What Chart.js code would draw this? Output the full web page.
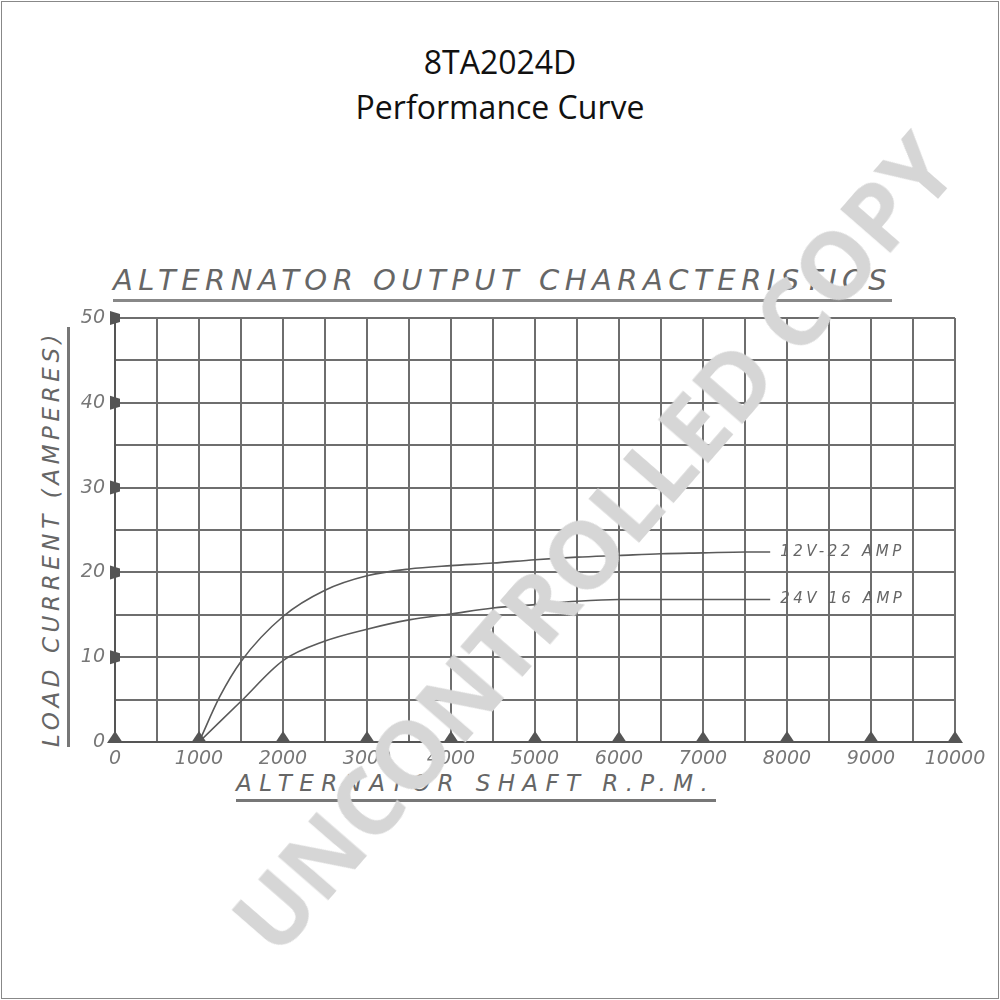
<!DOCTYPE html>
<html>
<head>
<meta charset="utf-8">
<script src="https://cdn.jsdelivr.net/npm/chart.js@4.4.1/dist/chart.umd.min.js"></script>
<style>
  html, body { margin: 0; padding: 0; background: #fff; }
  #page { position: relative; width: 1000px; height: 1000px; overflow: hidden; }
  #frame { position: absolute; left: 1px; top: 1px; width: 996px; height: 996px; border: 1px solid #888; }
  #chart { position: absolute; left: 0; top: 0; }
  .head { position: absolute; left: 0; width: 1000px; text-align: center; color: #111;
          font-family: "Liberation Sans Narrow", "Open Sans", sans-serif; font-size: 32px; }
  .hand { position: absolute; color: #666; font-family: "DejaVu Sans", sans-serif; font-style: oblique;
          white-space: nowrap; }
  #plotTitle { left: 113px; top: 263px; font-size: 29px; letter-spacing: 5.5px; border-bottom: 3px solid #888; padding-bottom: 2px; }
  #xTitle { left: 236px; top: 770px; font-size: 23px; letter-spacing: 7.4px; border-bottom: 3px solid #777; padding-bottom: 3px; width: 480px; }
  #yTitle { left: 38px; top: 747px; font-size: 23px; letter-spacing: 4.6px; transform-origin: 0 0; transform: rotate(-90deg);
            border-bottom: 3px solid #777; padding-bottom: 3px; width: 420px; }
  #mark { position: absolute; left: 592px; top: 542px; transform: translate(-50%, -50%) rotate(-49deg);
          font-family: "Open Sans", sans-serif; font-weight: 700; font-size: 93px; color: #d6d6d6;
          white-space: nowrap; }
</style>
</head>
<body>
<div id="page">
  <div id="frame"></div>
  <div class="head" style="top:40px;">8TA2024D</div>
  <div class="head" style="top:85px;">Performance Curve</div>
  <div class="hand" id="plotTitle">ALTERNATOR OUTPUT CHARACTERISTICS</div>
  <div class="hand" id="yTitle">LOAD CURRENT (AMPERES)</div>
  <div class="hand" id="xTitle">ALTERNATOR SHAFT R.P.M.</div>
  <canvas id="chart" width="1000" height="1000"></canvas>
  <div id="mark">UNCONTROLLED COPY</div>
</div>
<script>
    // ── Data ──

    var rpm = [1000, 1250, 1500, 2000, 2500, 3000, 3500, 4000, 4500, 5000, 5500, 6000, 6500, 7000, 7500, 7800];
    var amps12v = [0, 5.4, 9.5, 14.8, 17.9, 19.6, 20.4, 20.8, 21.1, 21.5, 21.8, 22.0, 22.2, 22.3, 22.4, 22.4];
    var amps24v = [0, 2.4, 4.8, 9.6, 11.9, 13.3, 14.4, 15.1, 15.8, 16.2, 16.6, 16.8, 16.8, 16.8, 16.8, 16.8];
    var seriesNames = ["12V-22 AMP", "24V 16 AMP"];
    var xTicks = [0, 1000, 2000, 3000, 4000, 5000, 6000, 7000, 8000, 9000, 10000];
    var yTicks = [0, 10, 20, 30, 40, 50];

    var ink = "#5a5a5a";

    function toPoints(xs, ys) {
        return xs.map(function (x, i) { return { x: x, y: ys[i] }; });
    }

    // triangles on the axes + curve labels
    var axisMarks = {
        id: "axisMarks",
        afterDatasetsDraw: function (chart) {
            var ctx = chart.ctx;
            var xs = chart.scales.x, ys = chart.scales.y;
            var base = ys.getPixelForValue(0);
            var left = xs.getPixelForValue(0);
            ctx.save();
            ctx.fillStyle = "#555";
            xTicks.forEach(function (v) {
                var px = xs.getPixelForValue(v);
                ctx.beginPath();
                ctx.moveTo(px - 8, base + 1);
                ctx.lineTo(px + 8, base + 1);
                ctx.lineTo(px, base - 11);
                ctx.closePath();
                ctx.fill();
            });
            yTicks.forEach(function (v) {
                if (v === 0) return;
                var py = ys.getPixelForValue(v);
                ctx.beginPath();
                ctx.moveTo(left - 5, py - 7);
                ctx.lineTo(left - 5, py + 7);
                ctx.lineTo(left + 5, py + 4);
                ctx.lineTo(left + 5, py - 4);
                ctx.closePath();
                ctx.fill();
            });
            // curve labels
            ctx.font = "oblique 15px 'DejaVu Sans', sans-serif";
            ctx.fillStyle = "#666";
            ctx.textBaseline = "middle";
            if ("letterSpacing" in ctx) ctx.letterSpacing = "3.5px";
            chart.data.datasets.forEach(function (ds) {
                var last = ds.data[ds.data.length - 1];
                ctx.fillText(ds.label, xs.getPixelForValue(last.x) + 10, ys.getPixelForValue(last.y));
            });
            ctx.restore();
        }
    };

    function makeDataset(name, ys) {
        return {
            label: name,
            data: toPoints(rpm, ys),
            borderColor: ink,
            borderWidth: 1.6,
            pointRadius: 0,
            cubicInterpolationMode: "monotone",
            fill: false
        };
    }

    function init() {
        var ctx = document.getElementById("chart");
        var tickFont = { family: "DejaVu Sans", size: 19, style: "italic" };
        new Chart(ctx, {
            type: "line",
            data: {
                datasets: [
                    makeDataset(seriesNames[0], amps12v),
                    makeDataset(seriesNames[1], amps24v)
                ]
            },
            options: {
                responsive: false,
                animation: false,
                layout: { padding: { left: 75, top: 318, right: 45, bottom: 228 } },
                plugins: { legend: { display: false }, tooltip: { enabled: false }, title: { display: false } },
                scales: {
                    x: {
                        type: "linear",
                        min: 0,
                        max: 10000,
                        afterFit: function (s) { s.height = 30; },
                        ticks: {
                            stepSize: 500,
                            autoSkip: false,
                            maxRotation: 0,
                            padding: 6,
                            color: "#777",
                            font: tickFont,
                            callback: function (v) { return v % 1000 === 0 ? String(v) : ""; }
                        },
                        grid: { color: "#6e6e6e", lineWidth: 2, drawTicks: false },
                        border: { color: "#555", width: 2 }
                    },
                    y: {
                        min: 0,
                        max: 50,
                        afterFit: function (s) { s.width = 40; },
                        ticks: {
                            stepSize: 5,
                            autoSkip: false,
                            padding: 10,
                            color: "#777",
                            font: tickFont,
                            callback: function (v) { return v % 10 === 0 ? String(v) : ""; }
                        },
                        grid: { color: "#6e6e6e", lineWidth: 2, drawTicks: false },
                        border: { color: "#555", width: 2 }
                    }
                }
            },
            plugins: [axisMarks]
        });
    }

    init();
</script>
</body>
</html>
